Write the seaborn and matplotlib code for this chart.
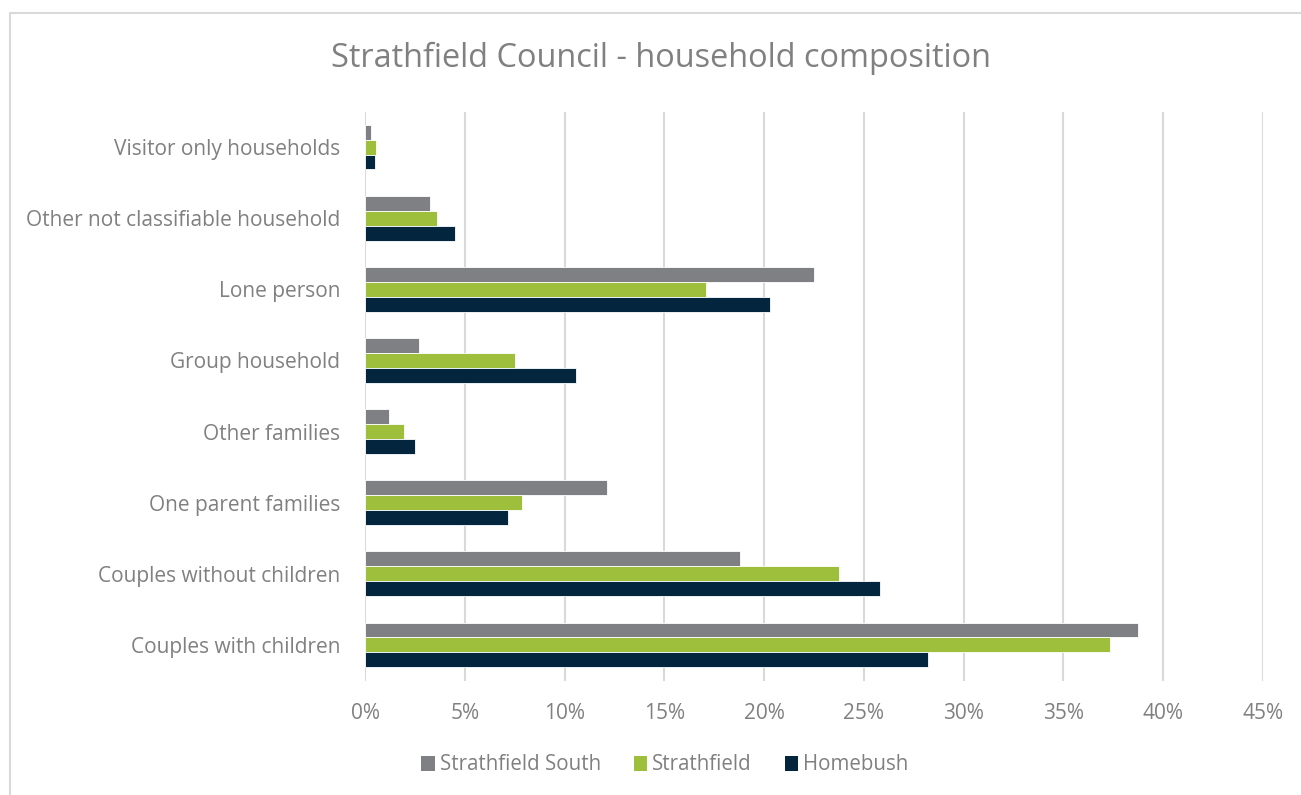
import matplotlib
matplotlib.use("Agg")
import matplotlib.pyplot as plt
import seaborn as sns
import pandas as pd
from matplotlib.patches import Rectangle, Patch
from matplotlib.ticker import FuncFormatter, MultipleLocator

categories = [
    "Visitor only households",
    "Other not classifiable household",
    "Lone person",
    "Group household",
    "Other families",
    "One parent families",
    "Couples without children",
    "Couples with children",
]
series = ["Strathfield South", "Strathfield", "Homebush"]
strathfield_south = [0.29, 3.27, 22.49, 2.69, 1.22, 12.15, 18.81, 38.76]
strathfield = [0.55, 3.59, 17.09, 7.53, 1.94, 7.85, 23.76, 37.31]
homebush = [0.52, 4.52, 20.30, 10.59, 2.52, 7.18, 25.81, 28.23]
colors = ["#7f8083", "#9dbf3c", "#03263e"]

rows = []
for name, vals in zip(series, [strathfield_south, strathfield, homebush]):
    for c, v in zip(categories, vals):
        rows.append({"category": c, "series": name, "value": v})
df = pd.DataFrame(rows)

sns.set_theme(style="white")
plt.rcParams["font.family"] = ["Open Sans", "DejaVu Sans"]
text_color = "#808080"

fig = plt.figure(figsize=(13.01, 7.95), dpi=100)
W, H = 1301, 795
left, right, top, bottom = 365, 1263, 111.5, 680.5
ax = fig.add_axes([left / W, 1 - bottom / H, (right - left) / W, (bottom - top) / H])

sns.barplot(
    data=df, y="category", x="value", hue="series", order=categories,
    hue_order=series, palette=colors, saturation=1, orient="h", width=0.63,
    edgecolor="white", linewidth=0.6, ax=ax, legend=False,
)

ax.set_xlim(0, 45)
ax.xaxis.set_major_locator(MultipleLocator(5))
ax.xaxis.set_major_formatter(FuncFormatter(lambda v, p: f"{int(round(v))}%"))
ax.set_xlabel("")
ax.set_ylabel("")
ax.grid(axis="x", color="#d9d9d9", linewidth=1.5)
ax.set_axisbelow(True)
for s in ax.spines.values():
    s.set_visible(False)
ax.tick_params(axis="y", length=0, colors=text_color, labelsize=15, pad=18)
ax.tick_params(axis="x", length=0, colors=text_color, labelsize=15, pad=16)
for lbl in ax.get_xticklabels() + ax.get_yticklabels():
    lbl.set_color(text_color)

fig.text(661 / W, 1 - 58 / H, "Strathfield Council - household composition",
         ha="center", va="center", fontsize=23.4, color=text_color)

handles = [Patch(facecolor=c, edgecolor="none") for c in colors]
fig.legend(handles, series, loc="center", bbox_to_anchor=(665 / W, 1 - 765 / H),
           ncol=3, frameon=False, fontsize=14.8, labelcolor=text_color,
           handlelength=0.65, handleheight=0.75, handletextpad=0.25, columnspacing=1.6)

fig.patches.append(Rectangle((9.5 / W, -0.1), 1.2, 1 - 12.5 / H + 0.1,
                             transform=fig.transFigure, fill=False,
                             edgecolor="#d9d9d9", linewidth=1.5))

fig.savefig("out.png", dpi=100, facecolor="white")
